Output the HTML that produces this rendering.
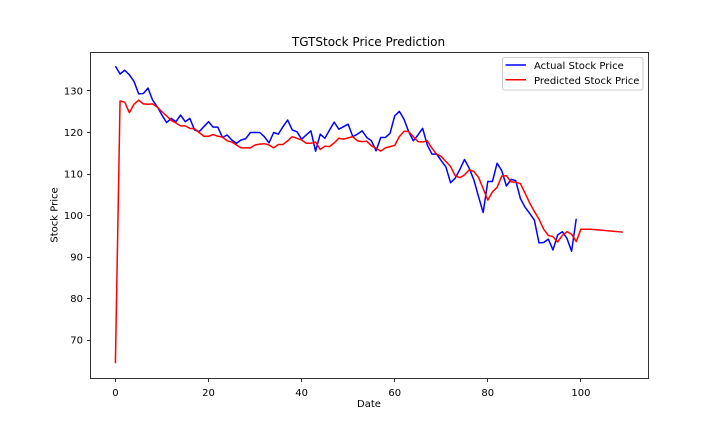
<!DOCTYPE html>
<html>
<head>
<meta charset="utf-8">
<title>TGTStock Price Prediction</title>
<style>
html,body{margin:0;padding:0;background:#fff;width:720px;height:432px;overflow:hidden}
svg{display:block}
text{font-family:"DejaVu Sans",sans-serif;fill:#000;font-size:10px}
</style>
</head>
<body>
<svg id="chart" width="720" height="432" viewBox="0 0 720 432" xmlns="http://www.w3.org/2000/svg"></svg>
<script>
const xTicks = [0, 20, 40, 60, 80, 100];
const yTicks = [70, 80, 90, 100, 110, 120, 130];
const actualPrices = [136,134.1,135,133.9,132.3,129.3,129.4,130.7,127.8,126.2,124.2,122.4,123.4,122.6,124.2,122.6,123.4,120.6,120.2,121.4,122.6,121.3,121.3,118.8,119.4,118.2,117.4,118.2,118.5,120,120,120,119,117.5,120,119.6,121.4,123,120.6,120.2,118.4,119.4,120.4,115.5,119.6,118.6,120.6,122.5,120.8,121.4,122,119,119.6,120.4,118.8,118,115.6,118.8,118.8,119.8,124,125.1,123.2,120.2,118,119.4,121,117,114.8,114.8,113.2,111.7,107.9,109,111.1,113.5,111.4,108.6,104.6,100.7,108.2,108.2,112.6,110.8,107.1,108.7,108.4,104.1,102,100.5,98.9,93.4,93.5,94.3,91.7,95.3,96.1,94.5,91.4,99.2];
const predictedPrices = [64.4,127.6,127.3,124.8,126.8,127.8,126.9,126.8,126.9,126.1,125,124,122.9,122.3,121.6,121.6,121,120.9,120,119.1,119.1,119.5,119.1,118.9,118,117.7,117,116.3,116.3,116.3,117,117.2,117.3,117,116.3,117.1,117.1,118,119,118.6,118.2,117.4,117.4,117.7,115.9,116.7,116.6,117.5,118.6,118.4,118.7,119,118,117.8,117.9,116.8,116.2,115.5,116.3,116.6,116.9,119,120.3,120.2,119,117.8,117.7,118,116.2,114.8,114.2,113,111.8,109.6,109.1,109.8,111,110.6,109.2,106.5,103.7,105.7,106.8,109.5,109.6,108.1,108,107.7,105.4,103,101,99.1,96.7,95.2,94.9,93.6,95.2,96.1,95.5,93.7,96.7,96.7,96.7,96.6,96.5,96.4,96.3,96.2,96.1,96];

const NS = 'http://www.w3.org/2000/svg';
const svg = document.getElementById('chart');
const plot = { left: 90.5, right: 648.5, top: 52.5, bottom: 378.5 };
function xScale(v) { return 115.4 + v * 4.655; }
function yScale(v) { return 340 - (v - 70) * 4.15; }
function snap(p) { return Math.floor(p) + 0.5; }
function make(tag, attrs, text) {
  const el = document.createElementNS(NS, tag);
  for (const k in attrs) el.setAttribute(k, attrs[k]);
  if (text !== undefined) el.textContent = text;
  svg.appendChild(el);
  return el;
}
function linePoints(values) {
  return values.map((v, i) => xScale(i).toFixed(2) + ',' + yScale(v).toFixed(2)).join(' ');
}

const actualLine = make('polyline', { points: linePoints(actualPrices), fill: 'none', stroke: '#0000ff', 'stroke-width': 1.5, 'stroke-linejoin': 'round' });


const predictedLine = make('polyline', { points: linePoints(predictedPrices), fill: 'none', stroke: '#ff0000', 'stroke-width': 1.5, 'stroke-linejoin': 'round' });



const frame = make('rect', { x: plot.left, y: plot.top, width: plot.right - plot.left, height: plot.bottom - plot.top, fill: 'none', stroke: '#000', 'stroke-width': 0.8 });



xTicks.forEach(t => {
  const x = xScale(t);
  const mark = make('line', { x1: snap(x), x2: snap(x), y1: plot.bottom, y2: plot.bottom + 3.5, stroke: '#000', 'stroke-width': 0.8 });
  
  
  const label = make('text', { x: x, y: 396, 'text-anchor': 'middle' }, String(t));
  
  
});
yTicks.forEach(t => {
  const y = yScale(t);
  const mark = make('line', { x1: plot.left - 3.5, x2: plot.left, y1: snap(y), y2: snap(y), stroke: '#000', 'stroke-width': 0.8 });
  
  
  const label = make('text', { x: 83, y: y + 3.6, 'text-anchor': 'end' }, String(t));
  
  
});

const title = make('text', { x: 368.5, y: 46, 'text-anchor': 'middle', style: 'font-size:12px' }, 'TGTStock Price Prediction');


const xTitle = make('text', { x: 369, y: 407, 'text-anchor': 'middle' }, 'Date');


const yTitle = make('text', { x: 0, y: 0, 'text-anchor': 'middle', transform: 'translate(57.5,215) rotate(-90)' }, 'Stock Price');



const legendBox = make('rect', { x: 502.5, y: 57.5, width: 140.5, height: 32.5, rx: 2, ry: 2, fill: '#fff', 'fill-opacity': 0.8, stroke: '#ccc', 'stroke-width': 1 });


const legendLineA = make('line', { x1: 505.5, x2: 526, y1: 65, y2: 65, stroke: '#0000ff', 'stroke-width': 1.5 });


const legendTextA = make('text', { x: 534, y: 69 }, 'Actual Stock Price');


const legendLineP = make('line', { x1: 505.5, x2: 526, y1: 79.7, y2: 79.7, stroke: '#ff0000', 'stroke-width': 1.5 });


const legendTextP = make('text', { x: 534, y: 84 }, 'Predicted Stock Price');


</script>
</body>
</html>
